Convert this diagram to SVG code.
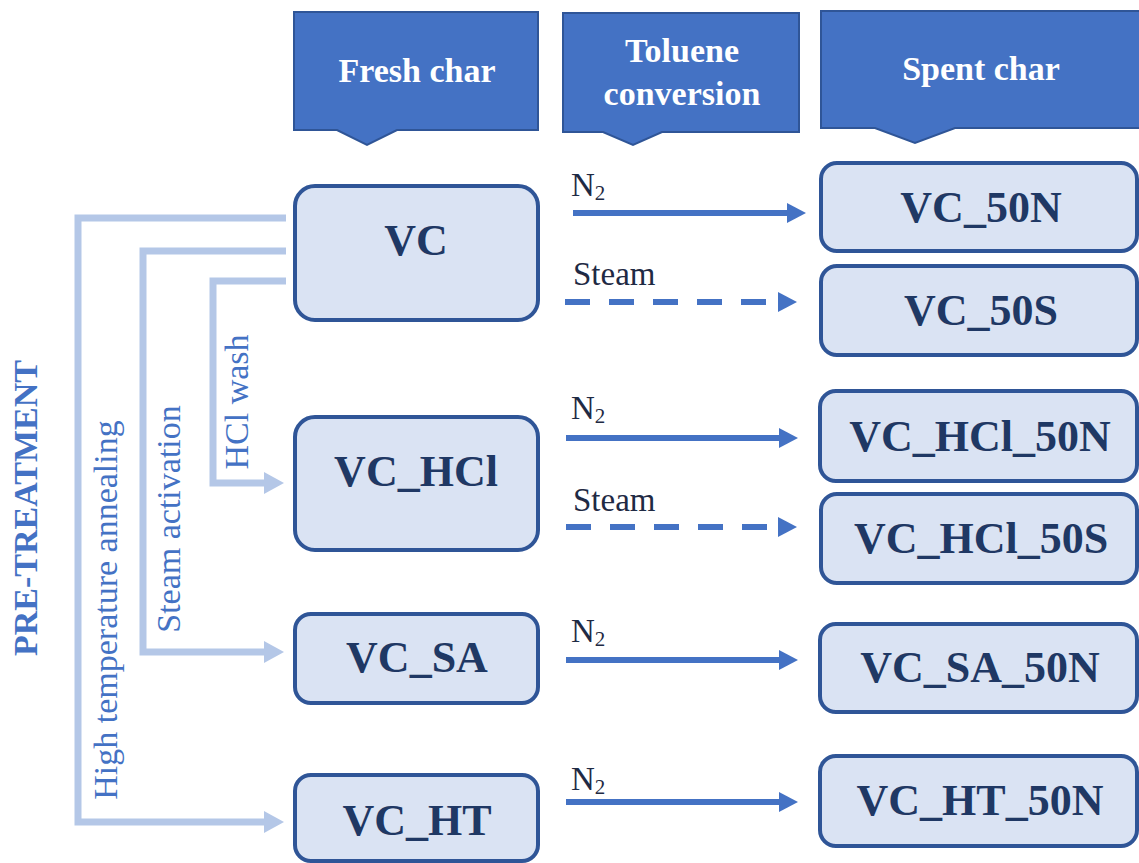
<svg xmlns="http://www.w3.org/2000/svg" width="1139" height="863" viewBox="0 0 1139 863">
<style>
.serif{font-family:"Liberation Serif","Times New Roman",Tinos,"DejaVu Serif",serif}
.hdr{fill:#4472C4;stroke:#2F5597;stroke-width:2}
.hdrt{font-weight:bold;font-size:34px;fill:#FFFFFF;text-anchor:middle}
.node{fill:#DAE3F3;stroke:#2F5597;stroke-width:4}
.nt{font-weight:bold;font-size:44px;fill:#1F3864;text-anchor:middle}
.lbl{font-size:33px;fill:#1F2A44}
.side{font-size:34px;fill:#4472C4;text-anchor:middle}
.arr{stroke:#4472C4;stroke-width:6;fill:none}
.dash{stroke:#4472C4;stroke-width:6;fill:none;stroke-dasharray:25 19}
.ah{fill:#4472C4}
.br{stroke:#B4C7E7;stroke-width:7;fill:none}
.bh{fill:#B4C7E7}
</style>
<rect width="1139" height="863" fill="#FFFFFF"/>
<g id="hdr-fresh">
<path class="hdr" d="M294,12 H538 V130 H397 L367,145 L337,130 H294 Z"/>
<text class="hdrt serif" x="417" y="82">Fresh char</text>
</g>
<g id="hdr-toluene">
<path class="hdr" d="M563,13 H799 V132 H662 L633,145 L603,132 H563 Z"/>
<text class="hdrt serif" x="682" y="62">Toluene</text>
<text class="hdrt serif" x="682" y="105">conversion</text>
</g>
<g id="hdr-spent">
<path class="hdr" d="M821,11 H1142 V128 H955 L915,143 L875,128 H821 Z"/>
<text class="hdrt serif" x="981" y="80">Spent char</text>
</g>
<g id="pretreatment-label">
<text class="serif side" transform="translate(37,508) rotate(-90)" font-weight="bold">PRE-TREATMENT</text>
</g>
<g id="connectors">
<path class="br" d="M286,218 H78 V822 H266"/>
<polygon class="bh" points="264,811 284,822 264,833"/>
<path class="br" d="M286,251 H143 V652 H266"/>
<polygon class="bh" points="264,641 284,652 264,663"/>
<path class="br" d="M286,281 H213 V483 H266"/>
<polygon class="bh" points="264,472 284,483 264,494"/>
<text class="side serif" transform="translate(117,610) rotate(-90)">High temperature annealing</text>
<text class="side serif" transform="translate(180,519) rotate(-90)">Steam activation</text>
<text class="side serif" transform="translate(248,402) rotate(-90)">HCl wash</text>

<line class="arr" x1="573" y1="213" x2="789" y2="213"/>
<polygon class="ah" points="787,203 806,213 787,223"/>
<text class="lbl serif" x="571" y="196">N<tspan font-size="21" dy="4">2</tspan></text>
<line class="dash" x1="565" y1="302" x2="776" y2="302"/>
<polygon class="ah" points="778,292 797,302 778,312"/>
<text class="lbl serif" x="573" y="285">Steam</text>

<line class="arr" x1="566" y1="438" x2="781" y2="438"/>
<polygon class="ah" points="779,428 798,438 779,448"/>
<text class="lbl serif" x="571" y="419">N<tspan font-size="21" dy="4">2</tspan></text>
<line class="dash" x1="566" y1="527" x2="776" y2="527"/>
<polygon class="ah" points="778,517 797,527 778,537"/>
<text class="lbl serif" x="573" y="511">Steam</text>

<line class="arr" x1="566" y1="660" x2="781" y2="660"/>
<polygon class="ah" points="779,650 798,660 779,670"/>
<text class="lbl serif" x="571" y="642">N<tspan font-size="21" dy="4">2</tspan></text>

<line class="arr" x1="566" y1="802" x2="781" y2="802"/>
<polygon class="ah" points="779,792 798,802 779,812"/>
<text class="lbl serif" x="571" y="790">N<tspan font-size="21" dy="4">2</tspan></text>
</g>
<g id="node-vc">
<rect class="node" x="295" y="186" width="243" height="134" rx="20"/>
<text class="nt serif" x="416" y="255">VC</text>
</g>
<g id="node-vc-hcl">
<rect class="node" x="295" y="417" width="243" height="133" rx="20"/>
<text class="nt serif" x="416" y="486">VC_HCl</text>
</g>
<g id="node-vc-sa">
<rect class="node" x="295" y="614" width="243" height="89" rx="16"/>
<text class="nt serif" x="417" y="672">VC_SA</text>
</g>
<g id="node-vc-ht">
<rect class="node" x="295" y="775" width="243" height="86" rx="16"/>
<text class="nt serif" x="417" y="835">VC_HT</text>
</g>
<g id="node-vc-50n">
<rect class="node" x="821" y="163" width="316" height="88" rx="16"/>
<text class="nt serif" x="981" y="222">VC_50N</text>
</g>
<g id="node-vc-50s">
<rect class="node" x="821" y="266" width="316" height="89" rx="16"/>
<text class="nt serif" x="981" y="325">VC_50S</text>
</g>
<g id="node-vc-hcl-50n">
<rect class="node" x="820" y="391" width="317" height="90" rx="16"/>
<text class="nt serif" x="980" y="451">VC_HCl_50N</text>
</g>
<g id="node-vc-hcl-50s">
<rect class="node" x="821" y="494" width="316" height="89" rx="16"/>
<text class="nt serif" x="981" y="553">VC_HCl_50S</text>
</g>
<g id="node-vc-sa-50n">
<rect class="node" x="820" y="624" width="317" height="88" rx="16"/>
<text class="nt serif" x="980" y="682">VC_SA_50N</text>
</g>
<g id="node-vc-ht-50n">
<rect class="node" x="820" y="756" width="317" height="90" rx="16"/>
<text class="nt serif" x="980" y="815">VC_HT_50N</text>
</g>
</svg>
